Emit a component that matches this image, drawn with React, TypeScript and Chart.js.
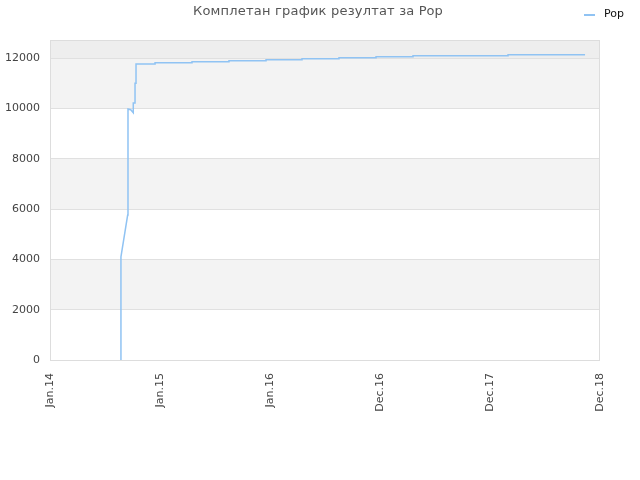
import React, { useEffect, useRef } from "react";
import Chart from "chart.js/auto";

// x is measured in label steps from "Jan.14" (the axis is evenly spaced)
const xLabels = ["Jan.14", "Jan.15", "Jan.16", "Dec.16", "Dec.17", "Dec.18"];
const xValues = [
  0.645, 0.645, 0.706, 0.709, 0.734, 0.757, 0.757, 0.773, 0.773, 0.782, 0.782,
  0.955, 0.955, 1.291, 1.291, 1.627, 1.627, 1.964, 1.964, 2.291, 2.291, 2.627,
  2.627, 2.964, 2.964, 3.3, 3.3, 4.164, 4.164, 4.864,
];
const results = [
  0, 4100, 5760, 9975, 9950, 9830, 10220, 10220, 11000, 11000, 11763,
  11763, 11816, 11816, 11856, 11856, 11896, 11896, 11935, 11935, 11975, 11975,
  12014, 12014, 12053, 12053, 12093, 12093, 12133, 12133,
];
const yTicks = [0, 2000, 4000, 6000, 8000, 10000, 12000];
const seriesName = "Pop";
const title = "Комплетан график резултат за Pop";

const FONT = "'DejaVu Sans', sans-serif";
const LINE = "#90c3f3";

const decor = {
  id: "decor",
  beforeDraw(chart: any) {
    const { ctx, chartArea: a, scales } = chart;
    const y = scales.y;
    ctx.save();
    // alternating bands
    for (let i = 0; i < yTicks.length - 1; i++) {
      if (i % 2 === 1) {
        const t = y.getPixelForValue(yTicks[i + 1]);
        const b = y.getPixelForValue(yTicks[i]);
        ctx.fillStyle = "#f3f3f3";
        ctx.fillRect(a.left, t, a.right - a.left, b - t);
      }
    }
    const top = y.getPixelForValue(yTicks[yTicks.length - 1]);
    ctx.fillStyle = "#eeeeee";
    ctx.fillRect(a.left, a.top, a.right - a.left, top - a.top);
    ctx.restore();
  },
  afterDraw(chart: any) {
    const { ctx, chartArea: a } = chart;
    ctx.save();
    ctx.strokeStyle = "#dddddd";
    ctx.lineWidth = 1;
    ctx.strokeRect(a.left + 0.5, a.top + 0.5, a.right - a.left - 1, a.bottom - a.top);
    // title
    ctx.fillStyle = "#555555";
    ctx.font = `13px ${FONT}`;
    ctx.textAlign = "center";
    ctx.textBaseline = "middle";
    (ctx as any).letterSpacing = "0.2px";
    ctx.fillText(title, 318, 12);
    (ctx as any).letterSpacing = "0px";
    // legend
    ctx.strokeStyle = LINE;
    ctx.lineWidth = 2;
    ctx.beginPath();
    ctx.moveTo(584, 15);
    ctx.lineTo(595, 15);
    ctx.stroke();
    ctx.fillStyle = "#111111";
    ctx.font = `11px ${FONT}`;
    ctx.textAlign = "left";
    ctx.fillText(seriesName, 604, 14);
    ctx.restore();
  },
};

export default function App() {
  const canvasRef = useRef<HTMLCanvasElement>(null);

  useEffect(() => {
    document.body.style.margin = "0";
    let chart: Chart | undefined;
    if (canvasRef.current) {
      chart = new Chart(canvasRef.current, {
        type: "line",
        data: {
          datasets: [
            {
              label: seriesName,
              data: xValues.map((x, i) => ({ x, y: results[i] })),
              borderColor: LINE,
              borderWidth: 1.5,
              pointRadius: 0,
              tension: 0,
              fill: false,
            },
          ],
        },
        options: {
          responsive: true,
          maintainAspectRatio: false,
          animation: false,
          layout: { padding: { top: 40, right: 40, left: 0, bottom: 0 } },
          plugins: {
            legend: { display: false },
            title: { display: false },
            tooltip: { enabled: false },
          },
          scales: {
            x: {
              type: "linear",
              min: 0,
              max: xLabels.length - 1,
              grid: { display: false, drawTicks: false },
              border: { display: false },
              afterFit: (s: any) => {
                s.height = 120;
              },
              afterBuildTicks: (s: any) => {
                s.ticks = xLabels.map((_, i) => ({ value: i }));
              },
              ticks: {
                autoSkip: false,
                minRotation: 90,
                maxRotation: 90,
                padding: 13,
                color: "#444444",
                font: { family: FONT, size: 11 },
                callback: (v: any) => xLabels[v] ?? "",
              },
            },
            y: {
              min: 0,
              max: 12720,
              grid: { color: "#e0e0e0", drawTicks: false },
              border: { display: false },
              afterFit: (s: any) => {
                s.width = 50;
              },
              afterBuildTicks: (s: any) => {
                s.ticks = yTicks.map((value) => ({ value }));
              },
              ticks: {
                padding: 10,
                color: "#444444",
                font: { family: FONT, size: 11 },
                callback: (v: any) => String(v),
              },
            },
          },
        },
        plugins: [decor],
      });
    }
    return () => {
      chart?.destroy();
    };
  }, []);

  return (
    <div style={{ position: "absolute", left: 0, top: 0, width: 640, height: 480 }}>
      <canvas ref={canvasRef}></canvas>
    </div>
  );
}
